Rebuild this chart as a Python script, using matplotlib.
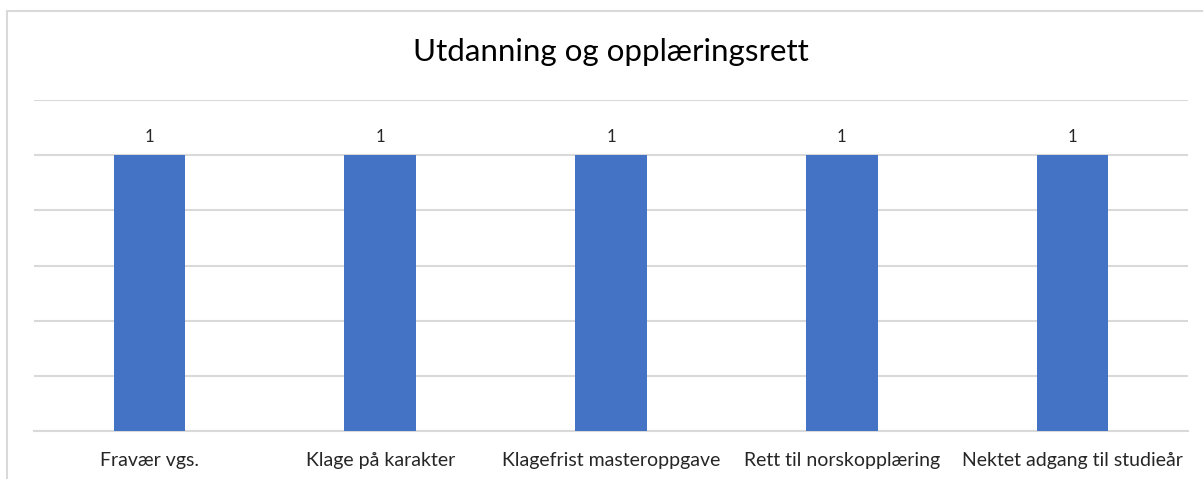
import matplotlib.pyplot as plt
from matplotlib.patches import Rectangle

# data
categories = ["Fravær vgs.", "Klage på karakter", "Klagefrist masteroppgave",
              "Rett til norskopplæring", "Nektet adgang til studieår"]
values = [1, 1, 1, 1, 1]

plt.rcParams['font.family'] = ['Lato', 'DejaVu Sans']

W, H = 1203, 479
fig = plt.figure(figsize=(W/100., H/100.), dpi=100)

# chart border (cut off on the right and bottom)
fig.patches.append(Rectangle((7./W, -0.2), 1.2, 1.2 - 11./H,
                             transform=fig.transFigure, fill=False,
                             edgecolor='#d9d9d9', linewidth=1.5))

ax = fig.add_axes([34./W, (H-431.)/H, (1188.-34.)/W, (431.-100.)/H])
x = range(len(categories))
bars = ax.bar(x, values, width=0.31, color='#4472c4', zorder=3)

for b, v in zip(bars, values):
    ax.text(b.get_x() + b.get_width()/2., v + 0.065, str(v),
            ha='center', va='center', fontsize=12, color='#262626')

ax.set_xlim(-0.5, len(categories) - 0.5)
ax.set_ylim(0, 1.2)
ax.set_yticks([0, 0.2, 0.4, 0.6, 0.8, 1.0, 1.2])
ax.set_yticklabels([])
ax.tick_params(axis='y', length=0)
ax.tick_params(axis='x', length=0, pad=15)
ax.set_xticks(list(x))
ax.set_xticklabels(categories, fontsize=14, color='#262626')
ax.grid(axis='y', color='#d9d9d9', linewidth=1.5, zorder=0)
for s in ['top', 'right', 'left']:
    ax.spines[s].set_visible(False)
ax.spines['bottom'].set_color('#d9d9d9')
ax.spines['bottom'].set_linewidth(1.5)

fig.text(611./W, 1 - 52./H, "Utdanning og opplæringsrett",
         ha='center', va='center', fontsize=22.5, color='#000000')

fig.savefig('out.png', dpi=100)
